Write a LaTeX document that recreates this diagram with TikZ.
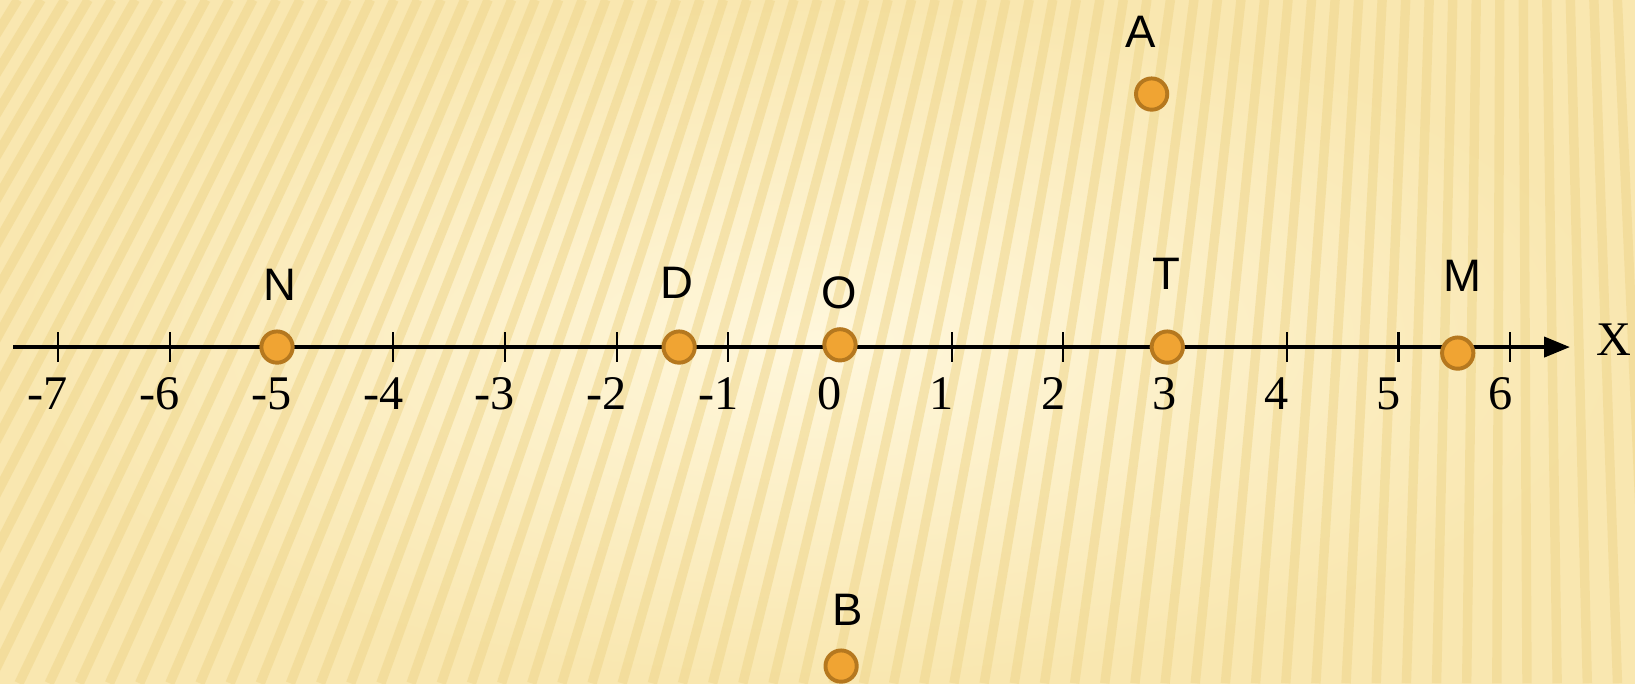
\documentclass[tikz,border=0pt]{standalone}
\usepackage{fontspec}
\setmainfont{Liberation Serif}
\newfontfamily\lettere{Liberation Sans}
\usetikzlibrary{arrows.meta}

\begin{document}
\begin{tikzpicture}

% Colori
\definecolor{colSfondo}{HTML}{F9E7B0}
\definecolor{colChiaro}{HTML}{FFF7DC}
\definecolor{colStriscia}{HTML}{EFD68C}
\definecolor{colPunto}{HTML}{F0A433}
\definecolor{colBordo}{HTML}{B5781F}

\tikzset{
  punto/.style={circle, fill=colPunto, draw=colBordo, line width=1pt,
    minimum size=0.28cm, inner sep=0pt},
  lettera/.style={font=\lettere\fontsize{11.6}{14}\selectfont, inner sep=0pt},
  numero/.style={font=\fontsize{12.3}{14}\selectfont, inner sep=0pt},
  tacca/.style={line width=0.55pt},
  asse/.style={line width=1pt, -{Triangle[length=6.6pt,width=5.1pt]}}
}

% Sfondo
\useasboundingbox (-7.52,-3.008) rectangle (7.117,3.107);
\shade[inner color=colChiaro, outer color=colSfondo]
  (-7.52,-3.008) rectangle (7.117,3.107);
\begin{scope}
\clip (-7.52,-3.008) rectangle (7.117,3.107);
\foreach \i in {0,...,70} {
  \pgfmathsetmacro\xb{-11.4 + \i*0.27}
  \pgfmathsetmacro\xt{\xb + 0.22*(6-\xb)}
  \draw[colStriscia, line width=2.4pt, opacity=0.55] (\xb,-3.01) -- (\xt,3.11);
}
\end{scope}

% Asse
\coordinate (inizio) at (-7.40,0);
\coordinate (fine) at (6.535,0);
\draw[asse] (inizio) -- (fine);
\node[numero] (lX) at (6.93,0.07) {X};

% Tacche e numeri
\foreach \i in {-7,...,6} {
  \draw[tacca] (\i,0.134) -- (\i,-0.134);
  \node[numero] (n\i) at (\i-0.09,-0.42) {\i};
}

% Punti sull'asse
\node[punto] (pN) at (-5.04,0) {};
\node[punto] (pD) at (-1.44,0) {};
\node[punto] (pO) at (0,0.02) {};
\node[punto] (pT) at (2.93,0) {};
\node[punto] (pM) at (5.53,-0.054) {};

% Punti fuori dall'asse
\node[punto] (pA) at (2.79,2.265) {};
\node[punto] (pB) at (0.01,-2.856) {};

% Lettere
\node[lettera] (lN) at (-5.01,0.555) {N};
\node[lettera] (lD) at (-1.46,0.573) {D};
\node[lettera] (lO) at (-0.01,0.49) {O};
\node[lettera] (lT) at (2.92,0.654) {T};
\node[lettera] (lM) at (5.57,0.636) {M};
\node[lettera] (lA) at (2.69,2.82) {A};
\node[lettera] (lB) at (0.07,-2.355) {B};

\end{tikzpicture}
\end{document}
